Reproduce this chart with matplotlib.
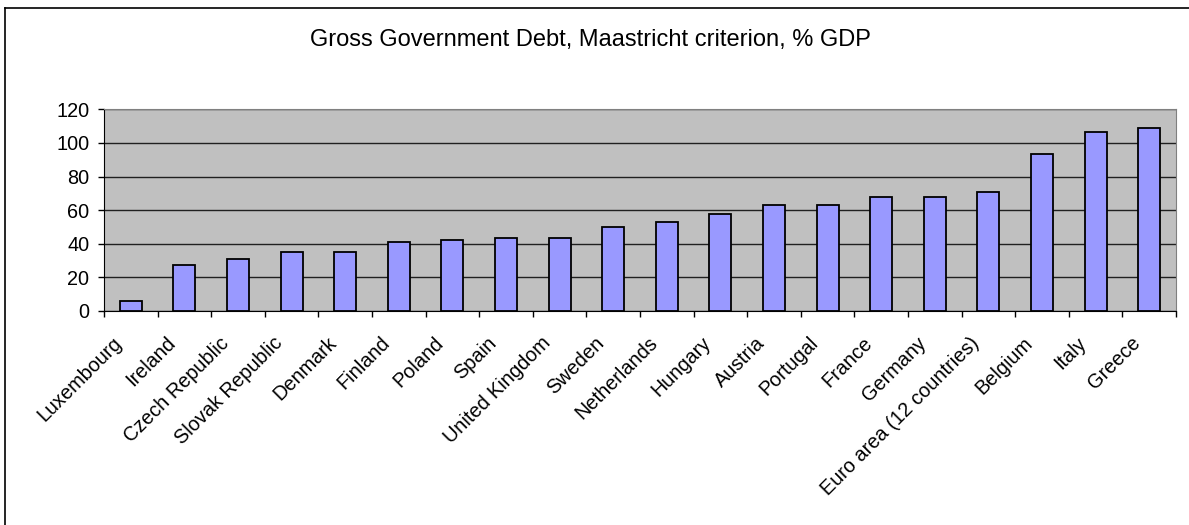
import matplotlib.pyplot as plt
import matplotlib.transforms as mtransforms
from matplotlib.lines import Line2D

countries = ["Luxembourg", "Ireland", "Czech Republic", "Slovak Republic", "Denmark",
             "Finland", "Poland", "Spain", "United Kingdom", "Sweden", "Netherlands",
             "Hungary", "Austria", "Portugal", "France", "Germany",
             "Euro area (12 countries)", "Belgium", "Italy", "Greece"]
debt = [6.0, 27.6, 30.9, 35.3, 35.3, 40.9, 42.3, 43.3, 43.2, 50.0, 53.2,
        57.5, 63.1, 63.2, 67.7, 67.7, 71.0, 93.5, 106.5, 108.7]
yticks = [0, 20, 40, 60, 80, 100, 120]

plt.rcParams["font.family"] = ["Liberation Sans", "DejaVu Sans"]

W, H = 1189, 525
fig = plt.figure(figsize=(W / 100, H / 100), dpi=100)
ax = fig.add_axes([104 / W, 1 - 311 / H, (1176 - 104) / W, (311 - 109.3) / H])

x = range(len(countries))
ax.set_facecolor("#C0C0C0")
ax.bar(x, debt, width=0.41, color="#9999FF", edgecolor="black", linewidth=1.3, zorder=3)

ax.set_ylim(0, 120)
ax.set_yticks(yticks)
ax.set_xlim(-0.5, len(countries) - 0.5)
ax.yaxis.grid(True, color="#202020", linewidth=1.0, zorder=1)
ax.set_axisbelow(True)

# category ticks sit on the boundaries between bars, names go on minor ticks
ax.set_xticks([i - 0.5 for i in range(len(countries) + 1)])
ax.set_xticklabels([])
ax.set_xticks(list(x), minor=True)
ax.set_xticklabels(countries, minor=True, rotation=45, ha="right", va="center",
                   rotation_mode="anchor", fontsize=14.3)
ax.tick_params(axis="x", which="minor", length=0, pad=21)
ax.tick_params(axis="x", which="major", length=4, width=1, direction="out")
ax.tick_params(axis="y", length=4, width=1, direction="out", labelsize=14.3, pad=6.5)

shift = mtransforms.ScaledTranslation(-12 / 100, 0, fig.dpi_scale_trans)
for lbl in ax.get_xticklabels(minor=True):
    lbl.set_transform(lbl.get_transform() + shift)

for side in ["top", "right"]:
    ax.spines[side].set_color("#808080")
for side in ["left", "bottom"]:
    ax.spines[side].set_color("black")

fig.text(590 / W, 1 - 40 / H, "Gross Government Debt, Maastricht criterion, % GDP",
         ha="center", va="center", fontsize=17)

# chart frame: only the top and left edges fall inside the image
fig.add_artist(Line2D([5 / W, 5 / W], [0, 1 - 8 / H], color="black", linewidth=1.2))
fig.add_artist(Line2D([5 / W, 1], [1 - 8 / H, 1 - 8 / H], color="black", linewidth=1.2))

fig.savefig("out.png", dpi=100)
